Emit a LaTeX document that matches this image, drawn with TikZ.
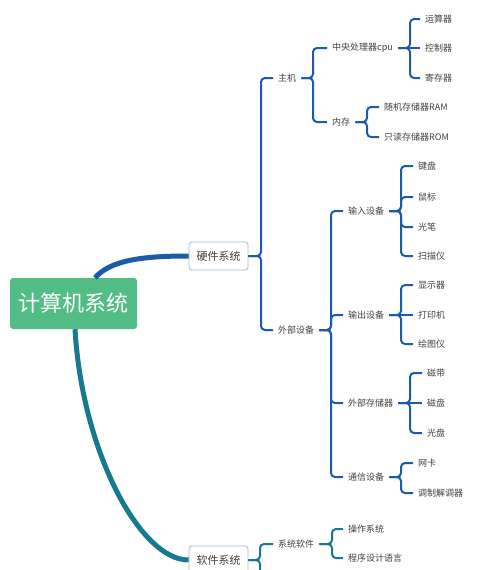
\documentclass[tikz,border=0pt]{standalone}
\usepackage{fontspec}
\setmainfont{Noto Sans CJK SC}
\newfontfamily\cjkfont{Noto Sans CJK SC}
\definecolor{hwblue}{RGB}{26,91,170}
\definecolor{swteal}{RGB}{23,121,143}
\definecolor{rootgreen}{RGB}{83,189,134}
\definecolor{boxborder}{RGB}{157,187,214}
\definecolor{txtgray}{RGB}{64,64,64}
\begin{document}
\begin{tikzpicture}[x=1pt,y=-1pt,
  root/.style={fill=rootgreen,rounded corners=3pt,minimum width=127pt,minimum height=51pt,
    text=white,font=\cjkfont\fontsize{22}{24}\selectfont,inner sep=0pt},
  topic/.style={draw=boxborder,fill=white,rounded corners=3pt,minimum width=59pt,minimum height=28pt,
    text=txtgray,font=\cjkfont\fontsize{11}{13}\selectfont,inner sep=0pt,line width=0.8pt},
  leaf/.style={anchor=west,inner xsep=5pt,inner ysep=1pt,text=txtgray,
    font=\cjkfont\fontsize{9}{11}\selectfont},
  hwline/.style={draw=hwblue,line width=2pt,rounded corners=4pt},
  swline/.style={draw=swteal,line width=2pt,rounded corners=4pt},
  hwmain/.style={draw=hwblue,line width=5pt},
  swmain/.style={draw=swteal,line width=5pt}]
\useasboundingbox (0,0) rectangle (480,570);
\clip (0,0) rectangle (480,570);
% bracket positions
\coordinate (bhw) at (261,0);
\coordinate (bzj) at (313,0);
\coordinate (bcpu) at (410,0);
\coordinate (bnc) at (367,0);
\coordinate (bwb) at (331,0);
\coordinate (bin) at (401,0);
\coordinate (bout) at (401,0);
\coordinate (bext) at (410,0);
\coordinate (bcom) at (401,0);
\coordinate (bsw) at (260,0);
\coordinate (bxt) at (332,0);
% nodes
\node[root] (root) at (73.5,303.5) {计算机系统};
\node[topic] (hw) at (218.5,256) {硬件系统};
\node[topic] (sw) at (218.5,560) {软件系统};
\node[leaf] (zj) at (273,78) {主机};
\node[leaf] (wb) at (273,330) {外部设备};
\node[leaf] (cpu) at (327,48) {中央处理器cpu};
\node[leaf] (nc) at (327,122) {内存};
\node[leaf] (ys) at (420,19) {运算器};
\node[leaf] (kz) at (420,48) {控制器};
\node[leaf] (jc) at (420,78) {寄存器};
\node[leaf] (ram) at (379,107) {随机存储器RAM};
\node[leaf] (rom) at (379,137) {只读存储器ROM};
\node[leaf] (in) at (343,211) {输入设备};
\node[leaf] (out) at (343,315) {输出设备};
\node[leaf] (ext) at (343,403) {外部存储器};
\node[leaf] (com) at (343,477) {通信设备};
\node[leaf] (jp) at (413,166) {键盘};
\node[leaf] (sb) at (413,197) {鼠标};
\node[leaf] (gb) at (413,227) {光笔};
\node[leaf] (smy) at (413,256) {扫描仪};
\node[leaf] (xsq) at (413,285) {显示器};
\node[leaf] (dyj) at (413,315) {打印机};
\node[leaf] (htj) at (413,344) {绘图仪};
\node[leaf] (cd) at (422,373) {磁带};
\node[leaf] (cp) at (422,403) {磁盘};
\node[leaf] (gp) at (422,433) {光盘};
\node[leaf] (wk) at (413,463) {网卡};
\node[leaf] (tz) at (413,493) {调制解调器};
\node[leaf] (xtrj) at (273,544) {系统软件};
\node[leaf] (czxt) at (343,529) {操作系统};
\node[leaf] (cxsj) at (343,558) {程序设计语言};
\coordinate (swmore) at (273,600);
% main curves
\draw[hwmain] ([xshift=21.5pt]root.north) .. controls +(15,-17) and +(-49,0) .. (hw.west);
\draw[swmain] ([xshift=1.5pt]root.south) .. controls +(7,121) and +(-49,0) .. (sw.west);
% hardware branches
\draw[hwline] (hw.east) -- (hw.east -| bhw) |- (zj.west);
\draw[hwline] (hw.east) -- (hw.east -| bhw) |- (wb.west);
\draw[hwline] (zj.east) -- (zj.east -| bzj) |- (cpu.west);
\draw[hwline] (zj.east) -- (zj.east -| bzj) |- (nc.west);
\draw[hwline] (cpu.east) -- (cpu.east -| bcpu) |- (ys.west);
\draw[hwline] (cpu.east) -- (kz.west);
\draw[hwline] (cpu.east) -- (cpu.east -| bcpu) |- (jc.west);
\draw[hwline] (nc.east) -- (nc.east -| bnc) |- (ram.west);
\draw[hwline] (nc.east) -- (nc.east -| bnc) |- (rom.west);
\draw[hwline] (wb.east) -- (wb.east -| bwb) |- (in.west);
\draw[hwline] (wb.east) -- (wb.east -| bwb) |- (out.west);
\draw[hwline] (wb.east) -- (wb.east -| bwb) |- (ext.west);
\draw[hwline] (wb.east) -- (wb.east -| bwb) |- (com.west);
\draw[hwline] (in.east) -- (in.east -| bin) |- (jp.west);
\draw[hwline] (in.east) -- (in.east -| bin) |- (sb.west);
\draw[hwline] (in.east) -- (in.east -| bin) |- (gb.west);
\draw[hwline] (in.east) -- (in.east -| bin) |- (smy.west);
\draw[hwline] (out.east) -- (out.east -| bout) |- (xsq.west);
\draw[hwline] (out.east) -- (dyj.west);
\draw[hwline] (out.east) -- (out.east -| bout) |- (htj.west);
\draw[hwline] (ext.east) -- (ext.east -| bext) |- (cd.west);
\draw[hwline] (ext.east) -- (cp.west);
\draw[hwline] (ext.east) -- (ext.east -| bext) |- (gp.west);
\draw[hwline] (com.east) -- (com.east -| bcom) |- (wk.west);
\draw[hwline] (com.east) -- (com.east -| bcom) |- (tz.west);
% software branches
\draw[swline] (sw.east) -- (sw.east -| bsw) |- (xtrj.west);
\draw[swline] (sw.east) -- (sw.east -| bsw) -- (swmore -| bsw);
\draw[swline] (xtrj.east) -- (xtrj.east -| bxt) |- (czxt.west);
\draw[swline] (xtrj.east) -- (xtrj.east -| bxt) |- (cxsj.west);
\end{tikzpicture}
\end{document}
